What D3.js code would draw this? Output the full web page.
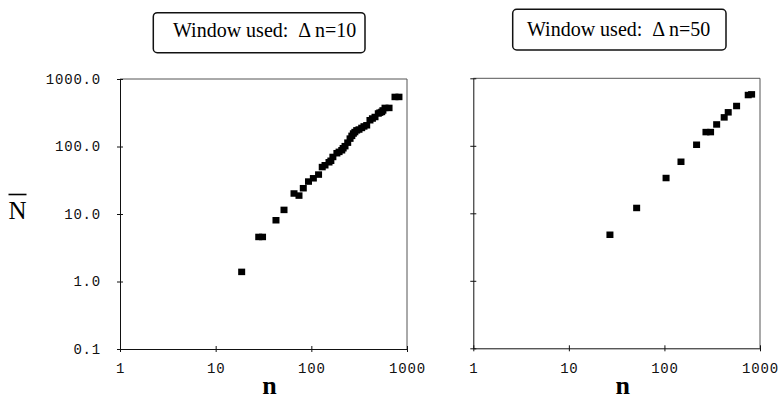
<!DOCTYPE html>
<html>
<head>
<meta charset="utf-8">
<script src="https://cdn.jsdelivr.net/npm/d3@7"></script>
<style>
  body { margin: 0; background: #fff; }
  svg { display: block; }
  .tick text { font-family: "Liberation Mono", "DejaVu Sans Mono", monospace; font-size: 14px; letter-spacing: 0.8px; fill: #111; }
</style>
</head>
<body>
<svg width="780" height="401"></svg>
<script>
// window dn=10 (left panel)
let leftN = [18.7, 28.2, 30.9, 42.7, 51.8, 65.9, 74.3, 82.4, 93.4, 105, 119, 130, 139, 153, 160, 168, 185, 195, 208, 215, 225,
  240, 254, 265, 275, 285, 298, 315, 336, 355, 379, 410, 435, 463, 501, 520, 544, 560, 589, 649, 749, 824];
let leftNbar = [1.40, 4.61, 4.61, 8.15, 11.6, 20.3, 18.9, 24.3, 30.5, 34.1, 38.7, 50, 53.2, 58.9, 62, 70.6, 80.2, 84, 88.7, 95, 102,
  115, 132, 145, 157, 165, 175, 180, 190, 200, 208, 247, 262, 276, 311, 320, 328, 345, 376, 376, 547, 547];

// window dn=50 (right panel)
let rightN = [26.9, 51.2, 104, 149, 217, 272, 304, 352, 422, 465, 569, 753, 817];
let rightNbar = [4.85, 12.1, 33.6, 58.5, 104.5, 161, 161, 209, 266, 316, 392, 570, 583];

let xTicks = [1, 10, 100, 1000];
let yTicks = [0.1, 1, 10, 100, 1000];
let yTickLabels = ["0.1", "1.0", "10.0", "100.0", "1000.0"];

let svg = d3.select("svg");

function panel(x0, x1, y0, y1, ns, nbars, showYLabels) {
  let xScale = d3.scaleLog().domain([1, 1000]).range([x0, x1]);
  let yScale = d3.scaleLog().domain([0.1, 1000]).range([y1, y0]);
  let g = svg.append("g");

  // top and right frame
  g.append("line").attr("x1", x0).attr("x2", x1).attr("y1", y0).attr("y2", y0)
    .attr("stroke", "#555").attr("stroke-width", 1);
  g.append("line").attr("x1", x1).attr("x2", x1).attr("y1", y0).attr("y2", y1)
    .attr("stroke", "#555").attr("stroke-width", 1);

  let xAxis = g.append("g")
    .attr("transform", "translate(0," + y1 + ")")
    .call(d3.axisBottom(xScale).tickValues(xTicks).tickFormat(d3.format("d"))
      .tickSize(3).tickSizeOuter(0).tickPadding(11.5));
  xAxis.selectAll(".tick line").attr("y1", -3).attr("y2", 3);

  let yAxis = g.append("g")
    .attr("transform", "translate(" + x0 + ",0)")
    .call(d3.axisLeft(yScale).tickValues(yTicks)
      .tickFormat(function (d, i) { return showYLabels ? yTickLabels[i] : ""; })
      .tickSize(3).tickSizeOuter(0).tickPadding(16));
  yAxis.selectAll(".tick line").attr("x1", 3).attr("x2", -3);
  g.selectAll(".domain").attr("stroke", "#111");
  g.selectAll(".tick line").attr("stroke", "#111");

  g.append("g")
    .selectAll("rect")
    .data(ns.map(function (d, i) { return [d, nbars[i]]; }))
    .enter()
    .append("rect")
    .attr("x", function (d) { return xScale(d[0]) - 3.5; })
    .attr("y", function (d) { return yScale(d[1]) - 3; })
    .attr("width", 7)
    .attr("height", 6.5)
    .style("fill", "#000");

  // axis title n
  svg.append("text")
    .attr("x", (x0 + x1) / 2 + 6)
    .attr("y", 393.5)
    .attr("text-anchor", "middle")
    .style("font-family", "'Liberation Serif', 'Times New Roman', serif")
    .style("font-weight", "bold")
    .style("font-size", "26px")
    .text("n");
}

panel(120, 407, 79, 349, leftN, leftNbar, true);
panel(473.3, 760, 78.3, 348.3, rightN, rightNbar, false);

// y title: N with overbar
svg.append("text")
  .attr("x", 17.5)
  .attr("y", 218.5)
  .attr("text-anchor", "middle")
  .style("font-family", "'Liberation Serif', 'Times New Roman', serif")
  .style("font-size", "25px")
  .text("N");
svg.append("line")
  .attr("x1", 8.5).attr("x2", 26.5).attr("y1", 194.5).attr("y2", 194.5)
  .attr("stroke", "#000").attr("stroke-width", 1.6);

// window boxes
let boxes = [
  { x: 153.3, y: 12.7, w: 211.7, h: 40, cx: 264.7, by: 36.7, label: "Window used:  \u0394 n=10" },
  { x: 512.7, y: 9.3, w: 213.3, h: 40.7, cx: 618.7, by: 36, label: "Window used:  \u0394 n=50" }
];
boxes.forEach(function (b) {
  svg.append("rect")
    .attr("x", b.x).attr("y", b.y).attr("width", b.w).attr("height", b.h)
    .attr("rx", 4).attr("ry", 4)
    .attr("fill", "none").attr("stroke", "#111").attr("stroke-width", 1.5);
  svg.append("text")
    .attr("x", b.cx).attr("y", b.by)
    .attr("text-anchor", "middle")
    .style("white-space", "pre")
    .style("font-family", "'Liberation Serif', 'Times New Roman', serif")
    .style("font-size", "20px")
    .text(b.label);
});
</script>
</body>
</html>
